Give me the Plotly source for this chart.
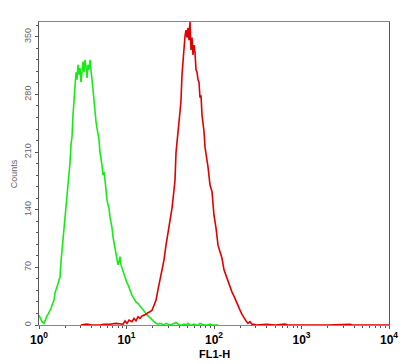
import plotly.graph_objects as go

# FL1-H values (log scale) and counts
green_fl1 = [1.0, 1.027, 1.054, 1.082, 1.111, 1.141, 1.171, 1.202, 1.234, 1.267, 1.301, 1.336,
             1.371, 1.408, 1.445, 1.484, 1.523, 1.564, 1.606, 1.649, 1.693, 1.738, 1.784, 1.832,
             1.881, 1.931, 1.982, 2.035, 2.089, 2.145, 2.202, 2.261, 2.321, 2.383, 2.447, 2.512,
             2.579, 2.648, 2.718, 2.791, 2.865, 2.942, 3.020, 3.101, 3.183, 3.268, 3.355, 3.445,
             3.537, 3.631, 3.728, 3.827, 3.929, 4.034, 4.141, 4.252, 4.365, 4.482, 4.601, 4.724,
             4.850, 4.979, 5.112, 5.248, 5.388, 5.532, 5.679, 5.831, 5.986, 6.146, 6.310, 6.478,
             6.650, 6.828, 7.010, 7.197, 7.389, 7.586, 7.788, 7.996, 8.209, 8.428, 8.653, 8.884,
             9.120, 9.364, 9.613, 9.869, 10.13, 10.40, 10.68, 10.96, 11.56, 12.18, 12.84, 13.54,
             14.27, 15.04, 15.85, 16.71, 17.61, 18.56, 19.56, 20.62, 21.73, 22.91, 24.15, 25.45,
             26.83, 28.28, 29.81, 31.42, 33.11, 34.90, 36.79, 38.78, 40.87, 43.08, 45.41, 47.86,
             50.45, 53.17, 56.05, 59.07, 62.27, 65.63, 69.18, 72.92, 76.86, 81.01, 85.39, 90.01,
             94.88, 100.0, 105.4, 111.1]
green_counts = [12, 9, 6, 4, 3, 2, 5, 9, 11, 13, 15, 17,
                20, 24, 27, 30, 39, 42, 45, 50, 55, 58, 77, 91,
                100, 118, 125, 140, 152, 164, 182, 197, 219, 228, 255, 273,
                292, 307, 298, 316, 304, 312, 295, 310, 320, 307, 322, 314,
                300, 316, 310, 322, 312, 298, 286, 273, 253, 247, 239, 233,
                225, 210, 203, 194, 182, 186, 176, 162, 152, 146, 142, 131,
                125, 118, 107, 101, 94, 89, 81, 73, 77, 83, 73, 69,
                64, 61, 57, 55, 51, 49, 45, 43, 36, 32, 28, 26,
                23, 19, 17, 13, 11, 9, 6, 4, 2, 1, 2, 1,
                0, 2, 1, 0, 1, 2, 3, 1, 0, 0, 1, 0,
                2, 0, 0, 1, 0, 0, 2, 1, 0, 0, 0, 1,
                0, 0, 0, 0]

red_fl1 = [3.0, 3.5, 4.0, 4.979, 5.5, 6.478, 7.586, 8.428, 9.120, 9.613, 10.13, 10.68, 11.56,
           12.18, 12.84, 13.54, 14.27, 15.04, 15.85, 16.71, 17.61, 18.56, 19.56, 20.62,
           21.73, 22.91, 24.15, 25.45, 26.83, 28.28, 29.81, 31.42, 33.11, 34.90, 35.84,
           36.79, 37.77, 38.78, 39.81, 40.87, 41.96, 43.08, 44.23, 45.41, 46.62, 47.86,
           49.14, 50.45, 51.79, 53.17, 54.59, 56.05, 57.54, 59.07, 60.65, 62.27, 63.93,
           65.63, 67.38, 69.18, 71.02, 72.92, 74.86, 76.86, 78.91, 81.01, 83.18, 85.39,
           87.67, 90.01, 94.88, 100.0, 105.4, 111.1, 117.1, 123.4, 130.1, 137.1, 144.5,
           152.3, 160.6, 169.2, 178.4, 188.0, 198.2, 208.9, 220.2, 232.1, 244.7, 257.9,
           271.8, 286.5, 302.0, 400.0, 500.0, 646.0, 700.0, 2000.0, 3560.0, 3800.0, 10000.0]
red_counts = [0, 1, 0, 0, 1, 1, 2, 1, 1, 5, 2, 6, 4,
              8, 5, 10, 8, 11, 12, 13, 15, 16, 18, 24,
              30, 43, 55, 67, 79, 97, 112, 125, 142, 164, 176,
              209, 225, 241, 247, 259, 273, 304, 322, 344, 351, 358,
              349, 361, 346, 368, 334, 349, 328, 340, 331, 310, 307,
              298, 295, 276, 279, 255, 247, 235, 216, 210, 200, 192,
              179, 170, 162, 133, 118, 97, 89, 81, 67, 60, 52,
              46, 40, 35, 30, 23, 18, 13, 8, 5, 2, 4,
              1, 1, 0, 1, 0, 1, 0, 0, 1, 0, 0]

x_tickvals = [1, 10, 100, 1000, 10000]
x_ticktext = ["<b>10<sup>0</sup></b>", "<b>10<sup>1</sup></b>", "<b>10<sup>2</sup></b>",
              "<b>10<sup>3</sup></b>", "<b>10<sup>4</sup></b>"]
y_tickvals = [0, 70, 140, 210, 280, 350]

fig = go.Figure()
fig.add_trace(go.Scatter(x=green_fl1, y=green_counts, mode="lines",
                         line=dict(color="#18ea18", width=1.6), showlegend=False))
fig.add_trace(go.Scatter(x=red_fl1, y=red_counts, mode="lines",
                         line=dict(color="#e00000", width=1.6), showlegend=False))

fig.update_layout(
    width=411, height=364,
    margin=dict(l=39, r=22, t=22, b=39),
    paper_bgcolor="white", plot_bgcolor="white",
    font=dict(family="Arial, Liberation Sans, sans-serif"),
    xaxis=dict(type="log", range=[0, 4], tickvals=x_tickvals, ticktext=x_ticktext,
               ticks="outside", ticklen=3, tickcolor="#555",
               minor=dict(ticks="outside", ticklen=2, tickcolor="#555", dtick="D1"),
               showgrid=False, zeroline=False, showline=True, linecolor="#888",
               linewidth=1.2, mirror=True, layer="above traces",
               tickfont=dict(size=12, color="black")),
    yaxis=dict(range=[0, 368], tickvals=y_tickvals, ticks="outside", ticklen=3,
               tickcolor="#555", tickangle=-90,
               minor=dict(ticks="outside", ticklen=2, tickcolor="#555", dtick=14),
               showgrid=False, zeroline=False, showline=True, linecolor="#555",
               linewidth=1, mirror=True,
               tickfont=dict(size=9, color="#666")),
    annotations=[
        dict(text="<b>FL1-H</b>", xref="paper", yref="paper", x=0.5, y=-0.097,
             showarrow=False, font=dict(size=11, color="black"), yanchor="middle"),
        dict(text="Counts", xref="paper", yref="paper", x=-0.072, y=0.5,
             showarrow=False, textangle=-90, font=dict(size=9, color="#666"),
             xanchor="center", yanchor="middle"),
    ],
)

fig.write_html("out.html", config={"displayModeBar": False},
               post_script="document.body.style.margin='0';")
